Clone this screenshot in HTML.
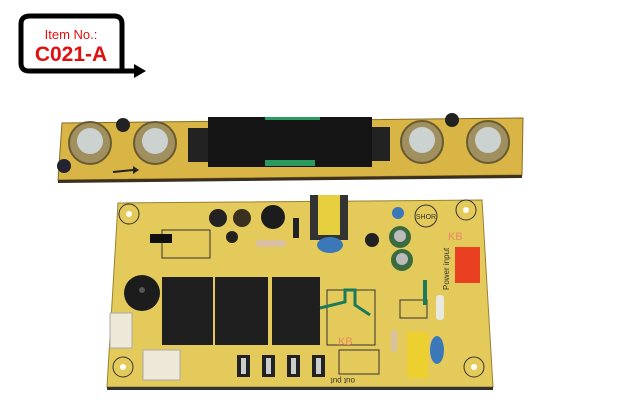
<!DOCTYPE html>
<html><head><meta charset="utf-8"><style>
html,body{margin:0;padding:0;background:#fff;width:640px;height:409px;overflow:hidden}
svg{display:block}
</style></head><body>
<svg width="640" height="409" viewBox="0 0 640 409" xmlns="http://www.w3.org/2000/svg" font-family="Liberation Sans, sans-serif">
<!-- label -->
<path d="M122,70 L122,24 Q122,16 114,16 L30,16 Q21,16 21,24 L21,63 Q21,71 29,71 L135,71" fill="none" stroke="#000" stroke-width="5"/>
<polygon points="134,64 146,71 134,78" fill="#000"/>
<text x="71" y="39" font-size="13" fill="#e01010" text-anchor="middle">Item No.:</text>
<text x="71" y="61" font-size="21" font-weight="bold" fill="#e01010" text-anchor="middle">C021-A</text>

<!-- top board -->
<polygon points="62,123 523,118 522,175 58,180" fill="#d9b545" stroke="#8a6a20" stroke-width="1"/>
<polygon points="58,180 522,175 522,178 58,183" fill="#3a3020"/>
<rect x="208" y="117" width="164" height="50" fill="#141414"/>
<rect x="188" y="128" width="20" height="34" fill="#222" />
<rect x="372" y="127" width="18" height="34" fill="#222"/>
<g fill="#2a9a60"><rect x="265" y="160" width="50" height="6"/><rect x="265" y="117" width="55" height="3"/></g>
<g>
<circle cx="90" cy="143" r="21" fill="#a09060" stroke="#6a5a30" stroke-width="2"/><circle cx="90" cy="141" r="13" fill="#ccd2d0"/>
<circle cx="155" cy="143" r="21" fill="#a09060" stroke="#6a5a30" stroke-width="2"/><circle cx="155" cy="141" r="13" fill="#ccd2d0"/>
<circle cx="422" cy="142" r="21" fill="#a09060" stroke="#6a5a30" stroke-width="2"/><circle cx="422" cy="140" r="13" fill="#ccd2d0"/>
<circle cx="488" cy="142" r="21" fill="#a09060" stroke="#6a5a30" stroke-width="2"/><circle cx="488" cy="140" r="13" fill="#ccd2d0"/>
</g>
<circle cx="123" cy="125" r="7" fill="#222"/><circle cx="452" cy="120" r="7" fill="#222"/>
<circle cx="64" cy="166" r="7" fill="#223"/>
<path d="M113,172 L133,170" stroke="#222" stroke-width="2"/><polygon points="133,166 139,170 133,174" fill="#222"/>

<!-- bottom board -->
<polygon points="118,203 482,200 493,387 107,387" fill="#e3ca5a" stroke="#9a8030"/>
<polygon points="107,387 493,387 493,390 107,390" fill="#333"/>
<g fill="none" stroke="#333" stroke-width="1">
<circle cx="129" cy="214" r="10"/><circle cx="466" cy="210" r="10"/><circle cx="123" cy="367" r="10"/><circle cx="474" cy="367" r="10"/>
<circle cx="426" cy="216" r="11"/>
<rect x="162" y="230" width="48" height="28"/>
<rect x="327" y="290" width="48" height="55"/>
<rect x="400" y="300" width="27" height="18"/>
<rect x="339" y="350" width="40" height="24"/>
</g>
<circle cx="129" cy="214" r="3" fill="#fff"/><circle cx="466" cy="210" r="3" fill="#fff"/><circle cx="123" cy="367" r="3" fill="#fff"/><circle cx="474" cy="367" r="3" fill="#fff"/>
<text x="426" y="219" font-size="7" text-anchor="middle" fill="#333">SHOR</text>
<text x="448" y="240" font-size="11" fill="#e88a60">KB</text>
<text x="338" y="345" font-size="11" fill="#e88a60">KB</text>
<!-- transformer -->
<rect x="310" y="195" width="38" height="45" fill="#333"/>
<rect x="318" y="195" width="22" height="40" fill="#e6d040"/>
<ellipse cx="330" cy="245" rx="13" ry="8" fill="#3a78b8"/>
<circle cx="398" cy="213" r="6" fill="#3a78b8"/>
<!-- caps -->
<circle cx="218" cy="218" r="9" fill="#222"/><circle cx="242" cy="218" r="9" fill="#3a3020"/><circle cx="273" cy="217" r="12" fill="#1c1c1c"/>
<circle cx="372" cy="240" r="7" fill="#222"/>
<circle cx="400" cy="237" r="11" fill="#3a6a40"/><circle cx="400" cy="236" r="6" fill="#bbb"/>
<circle cx="402" cy="260" r="11" fill="#3a6a40"/><circle cx="402" cy="259" r="6" fill="#bbb"/>
<rect x="293" y="218" width="6" height="20" fill="#222"/>
<rect x="256" y="240" width="30" height="7" rx="3" fill="#d8c0a0"/>
<rect x="150" y="234" width="22" height="9" fill="#111"/>
<circle cx="232" cy="237" r="6" fill="#222"/>
<!-- buzzer -->
<circle cx="142" cy="293" r="18" fill="#1c1c1c"/><circle cx="142" cy="290" r="3" fill="#555"/>
<!-- relays -->
<rect x="162" y="277" width="51" height="68" fill="#1f1f1f"/>
<rect x="215" y="277" width="53" height="68" fill="#1f1f1f"/>
<rect x="272" y="277" width="48" height="68" fill="#1f1f1f"/>
<path d="M320,308 L345,302 L345,290 L355,290 L355,305 L370,315" stroke="#1a7a5a" stroke-width="3" fill="none"/>
<rect x="423" y="280" width="4" height="25" fill="#1a7a5a"/>
<!-- connectors -->
<rect x="455" y="247" width="25" height="36" fill="#e84020"/>
<rect x="110" y="313" width="22" height="35" fill="#eee8d8" stroke="#aaa"/>
<rect x="143" y="350" width="37" height="30" fill="#eee8d8" stroke="#aaa"/>
<rect x="407" y="332" width="21" height="46" fill="#ecd030"/>
<ellipse cx="437" cy="350" rx="7" ry="14" fill="#3a78b8"/>
<rect x="436" y="295" width="8" height="25" rx="3" fill="#e8e8e0"/>
<rect x="391" y="330" width="6" height="22" rx="3" fill="#d8c0a0"/>
<g fill="#222"><rect x="237" y="355" width="13" height="22"/><rect x="262" y="355" width="13" height="22"/><rect x="287" y="355" width="13" height="22"/><rect x="312" y="355" width="13" height="22"/></g>
<g fill="#ccc"><rect x="241" y="358" width="5" height="16"/><rect x="266" y="358" width="5" height="16"/><rect x="291" y="358" width="5" height="16"/><rect x="316" y="358" width="5" height="16"/></g>
<text x="355" y="384" font-size="8" fill="#333" transform="rotate(180 355 381)">out put</text>
<text x="449" y="290" font-size="8" fill="#333" transform="rotate(-90 449 290)">Power input</text>
</svg>
</body></html>
